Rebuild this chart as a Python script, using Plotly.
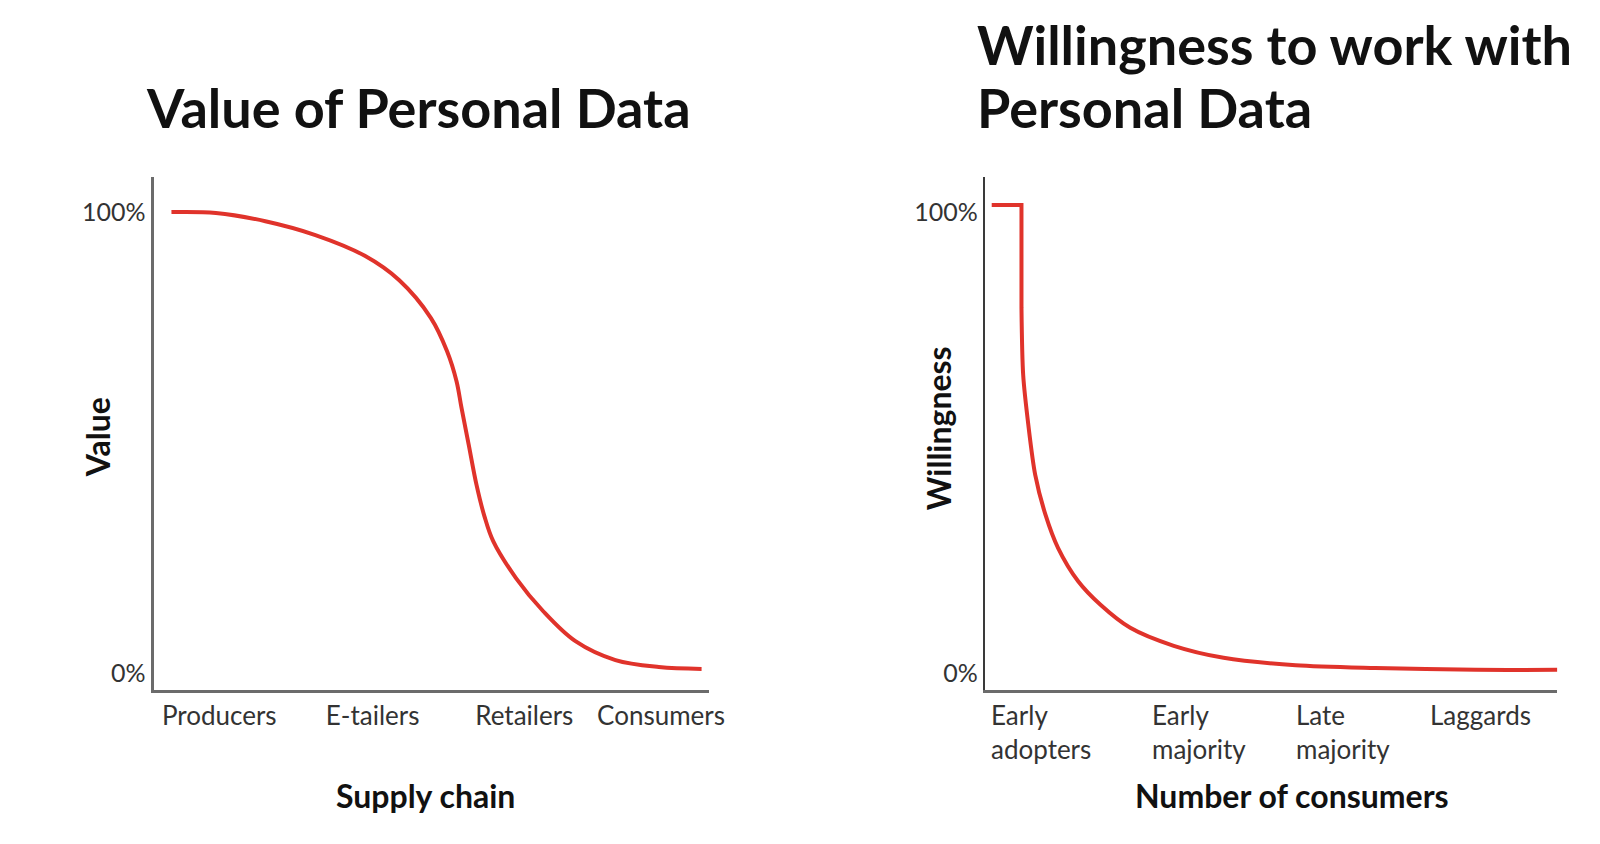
import plotly.graph_objects as go

# left chart: value of personal data along the supply chain (x 0..100, y in %)
value_x = [3.2, 11.2, 20.1, 29.1, 38.0, 44.2, 49.9, 52.8, 54.5, 55.4, 56.7, 58.1, 59.5, 61.1, 65.2, 70.1, 75.9, 83.1, 90.9, 98.6]
value_y = [100, 99.8, 98.0, 95.0, 90.5, 85.2, 77.0, 69.8, 63.3, 57.5, 49.5, 40.8, 34.1, 28.6, 20.6, 13.4, 6.9, 2.8, 1.3, 0.9]
supply_ticks = [11.8, 39.4, 66.7, 91.3]
supply_labels = ['Producers', 'E-tailers', 'Retailers', 'Consumers']

# right chart: willingness of consumers
step_x = [1.2, 6.4, 6.4]
step_y = [101.5, 101.5, 79.2]
will_x = [6.4, 6.7, 7.6, 8.8, 10.6, 12.8, 16.3, 20.2, 25.4, 33.0, 41.7, 54.3, 68.2, 85.8, 100]
will_y = [79.2, 64.6, 53.8, 43.0, 34.3, 27.1, 19.9, 14.8, 9.8, 5.9, 3.3, 1.7, 1.1, 0.7, 0.7]
consumer_ticks = [0.7, 28.9, 54.0, 77.4]
consumer_labels = ['Early<br>adopters', 'Early<br>majority', 'Late<br>majority', 'Laggards']

pct_ticks = [0, 100]
pct_labels = ['0%', '100%']

RED = '#e0332b'
FONT = 'Lato'

fig = go.Figure()
fig.add_trace(go.Scatter(x=value_x, y=value_y, mode='lines', xaxis='x', yaxis='y',
                         line=dict(color=RED, width=4, shape='spline', smoothing=1)))
fig.add_trace(go.Scatter(x=step_x, y=step_y, mode='lines', xaxis='x2', yaxis='y2',
                         line=dict(color=RED, width=4)))
fig.add_trace(go.Scatter(x=will_x, y=will_y, mode='lines', xaxis='x2', yaxis='y2',
                         line=dict(color=RED, width=4, shape='spline', smoothing=0.8)))

ydom = [0.1919, 0.7998]
yrange = [-3.69, 107.6]
xtickfont = dict(family=FONT, size=26, color='#333')
ytickfont = dict(family=FONT, size=25, color='#333')

fig.update_layout(
    width=1600, height=844,
    margin=dict(l=0, r=0, t=0, b=0),
    paper_bgcolor='white', plot_bgcolor='white',
    showlegend=False,
    font=dict(family=FONT, color='#111'),
    xaxis=dict(domain=[0.0919, 0.4425], range=[0, 100], showgrid=False, zeroline=False,
               showline=True, linecolor='#6b6b6b', linewidth=3,
               tickvals=supply_ticks, ticktext=supply_labels, tickfont=xtickfont,
               ticks='', ticklabelstandoff=1),
    yaxis=dict(domain=ydom, range=yrange, showgrid=False, zeroline=False,
               showline=True, linecolor='#6b6b6b', linewidth=3,
               tickvals=pct_ticks, ticktext=pct_labels, tickfont=ytickfont, ticks=''),
    xaxis2=dict(domain=[0.6163, 0.9775], range=[0, 100], showgrid=False, zeroline=False,
                showline=True, linecolor='#6b6b6b', linewidth=3,
                showticklabels=False, anchor='y2'),
    yaxis2=dict(domain=ydom, range=yrange, showgrid=False, zeroline=False,
                showline=True, linecolor='#3a3a3a', linewidth=2, anchor='x2',
                tickvals=pct_ticks, ticktext=pct_labels, tickfont=ytickfont, ticks=''),
)

# right chart category labels, left aligned below the axis
for tx, lab in zip(consumer_ticks, consumer_labels):
    fig.add_annotation(x=tx, y=0.1836, xref='x2', yref='paper', text=lab, showarrow=False,
                       xanchor='left', yanchor='top', align='left', font=xtickfont)

titlefont = dict(family=FONT, size=54, color='#111', weight='bold')
axfont = dict(family=FONT, size=32, color='#111', weight='bold')

fig.add_annotation(x=0.2588, y=0.8827, xref='paper', yref='paper', text='Value of Personal Data',
                   showarrow=False, xanchor='center', yanchor='middle', font=titlefont)
fig.add_annotation(x=0.61, y=0.9573, xref='paper', yref='paper', text='Willingness to work with',
                   showarrow=False, xanchor='left', yanchor='middle', font=titlefont)
fig.add_annotation(x=0.61, y=0.8827, xref='paper', yref='paper', text='Personal Data',
                   showarrow=False, xanchor='left', yanchor='middle', font=titlefont)

fig.add_annotation(x=0.2631, y=0.0675, xref='paper', yref='paper', text='Supply chain',
                   showarrow=False, xanchor='center', yanchor='middle', font=axfont)
fig.add_annotation(x=0.81, y=0.0675, xref='paper', yref='paper', text='Number of consumers',
                   showarrow=False, xanchor='center', yanchor='middle', font=axfont)
fig.add_annotation(x=0.0563, y=0.4917, xref='paper', yref='paper', text='Value', textangle=-90,
                   showarrow=False, xanchor='center', yanchor='middle', font=axfont)
fig.add_annotation(x=0.5875, y=0.5024, xref='paper', yref='paper', text='Willingness', textangle=-90,
                   showarrow=False, xanchor='center', yanchor='middle', font=axfont)

fig.write_html('out.html')
